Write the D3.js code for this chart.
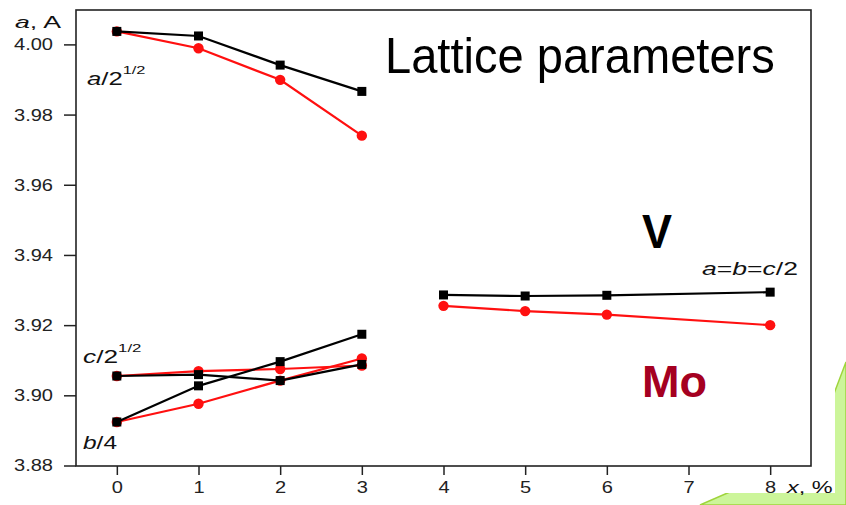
<!DOCTYPE html>
<html>
<head>
<meta charset="utf-8">
<script src="https://cdn.jsdelivr.net/npm/d3@7"></script>
<style>
  html, body { margin: 0; padding: 0; background: #fff; }
  svg { display: block; font-family: "Liberation Sans", Arial, sans-serif; }
</style>
</head>
<body>
<svg id="chart" width="846" height="505"></svg>
<script>
// Lattice parameters vs. dopant content x (%)
const xLow = [0, 1, 2, 3];
const xHigh = [4, 5, 6, 8];

// V-doped (black squares)
const aV = [4.0037, 4.0024, 3.9941, 3.9866];
const cV = [3.9055, 3.9059, 3.9042, 3.9088];
const bV = [3.8924, 3.9027, 3.9096, 3.9174];
const cubicV = [3.9286, 3.9283, 3.9285, 3.9294];

// Mo-doped (red circles)
const aMo = [4.0037, 3.9989, 3.9899, 3.9740];
const cMo = [3.9055, 3.9069, 3.9075, 3.9085];
const bMo = [3.8924, 3.8976, 3.9042, 3.9105];
const cubicMo = [3.9255, 3.9240, 3.9230, 3.9200];

const yTicks = [3.88, 3.90, 3.92, 3.94, 3.96, 3.98, 4.00];
const xTicks = [0, 1, 2, 3, 4, 5, 6, 7, 8];

const svg = d3.select("#chart");
const plot = { left: 76, right: 811, top: 10, bottom: 466 };
const FONT = '"Liberation Sans", Arial, sans-serif';
const TICK_STRETCH = 1.18;

const x = d3.scaleLinear().domain([-0.5, 8.5]).range([plot.left, plot.right]);
const y = d3.scaleLinear().domain([3.88, 4.0098]).range([plot.bottom - 0.5, plot.top]);

// Decorative green corner shape behind the chart panel
svg.append("polygon")
  .attr("points", "700,505 846,505 846,362 810,457")
  .attr("fill", "#ccf59a")
  .attr("stroke", "#9fd43c")
  .attr("stroke-width", 1.5);
svg.append("rect")
  .attr("x", 0).attr("y", 0).attr("width", 835).attr("height", 493)
  .attr("fill", "#fff");

// Axes
const yAxis = d3.axisLeft(y).tickValues(yTicks).tickFormat(d3.format(".2f"))
  .tickSize(12).tickPadding(11);
const xAxis = d3.axisBottom(x).tickValues(xTicks).tickFormat(d3.format("d"))
  .tickSize(9).tickPadding(6);

const gy = svg.append("g").attr("transform", `translate(${plot.left},0)`).call(yAxis);
const gx = svg.append("g").attr("transform", `translate(0,${plot.bottom})`).call(xAxis);
[gy, gx].forEach(g => {
  g.select(".domain").remove();
  g.selectAll(".tick line").attr("stroke", "#222").attr("stroke-width", 1.5);
  g.selectAll(".tick text").attr("fill", "#222")
    .style("font-size", "17px").style("font-family", FONT);
});
// slightly wide tick numerals
gy.selectAll(".tick text")
  .attr("x", -23 / TICK_STRETCH)
  .attr("transform", `scale(${TICK_STRETCH},1)`);
gx.selectAll(".tick text")
  .attr("transform", `scale(${TICK_STRETCH},1)`);

// Plot frame
svg.append("rect")
  .attr("x", plot.left).attr("y", plot.top)
  .attr("width", plot.right - plot.left).attr("height", plot.bottom - plot.top)
  .attr("fill", "none").attr("stroke", "#222").attr("stroke-width", 1.6);

// Series drawing
const line = d3.line().x(d => x(d[0])).y(d => y(d[1]));
function drawSeries(xs, ys, color, shape) {
  const pts = xs.map((v, i) => [v, ys[i]]);
  svg.append("path").datum(pts)
    .attr("d", line).attr("fill", "none")
    .attr("stroke", color).attr("stroke-width", 2.2);
  if (shape === "circle") {
    svg.append("g").selectAll("circle").data(pts).join("circle")
      .attr("cx", d => x(d[0])).attr("cy", d => y(d[1])).attr("r", 5.2)
      .attr("fill", color);
  } else {
    svg.append("g").selectAll("rect").data(pts).join("rect")
      .attr("x", d => x(d[0]) - 4.5).attr("y", d => y(d[1]) - 4.5)
      .attr("width", 9).attr("height", 9).attr("fill", color);
  }
}

const red = "#ff1010", black = "#000";
drawSeries(xLow, aMo, red, "circle");
drawSeries(xLow, cMo, red, "circle");
drawSeries(xLow, bMo, red, "circle");
drawSeries(xHigh, cubicMo, red, "circle");
drawSeries(xLow, aV, black, "square");
drawSeries(xLow, cV, black, "square");
drawSeries(xLow, bV, black, "square");
drawSeries(xHigh, cubicV, black, "square");

// Labels: placed at (xp, yp) and stretched horizontally to the given width
function label(xp, yp, width, parts, size, opts = {}) {
  const t = svg.append("text").attr("x", 0).attr("y", 0)
    .attr("fill", opts.fill || "#111")
    .style("font-size", size + "px")
    .style("font-weight", opts.weight || "normal");
  parts.forEach(p => {
    const s = t.append("tspan").text(p.t);
    if (p.i) s.style("font-style", "italic");
    if (p.sup) s.style("font-size", p.sup + "px").attr("dy", p.dy);
  });
  const w = t.node().getBBox().width;
  t.attr("transform", `translate(${xp},${yp}) scale(${width / w},1)`);
  return t;
}

label(15, 28, 47, [{ t: "a", i: true }, { t: ", A" }], 17);
label(787, 493, 47, [{ t: "x", i: true }, { t: ", %" }], 17);
label(87, 85, 58.5, [{ t: "a", i: true }, { t: "/2" }, { t: "1/2", sup: 11.5, dy: -11.5 }], 18);
label(83, 363, 58.5, [{ t: "c", i: true }, { t: "/2" }, { t: "1/2", sup: 11.5, dy: -10.8 }], 18);
label(83, 449, 34, [{ t: "b", i: true }, { t: "/4" }], 18);
label(702, 275, 96, [{ t: "a", i: true }, { t: "=" }, { t: "b", i: true }, { t: "=" }, { t: "c", i: true }, { t: "/2" }], 17.5);

label(385, 72.5, 390, [{ t: "Lattice parameters" }], 50, { fill: "#000" });
label(642, 248, 30, [{ t: "V" }], 48, { fill: "#000", weight: "bold" });
label(642, 397, 65, [{ t: "Mo" }], 44, { fill: "#a50021", weight: "bold" });
</script>
</body>
</html>
